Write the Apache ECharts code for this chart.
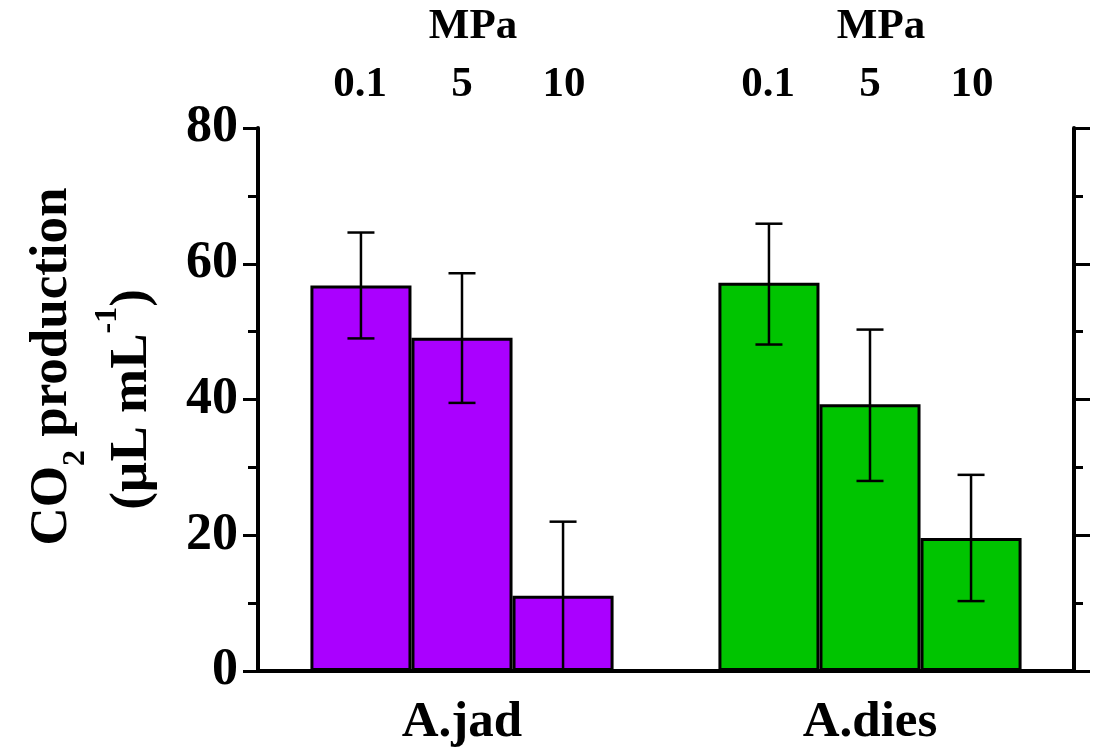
<!DOCTYPE html>
<html>
<head>
<meta charset="utf-8">
<script src="https://cdn.jsdelivr.net/npm/echarts@6/dist/echarts.min.js"></script>
<style>
html,body{margin:0;padding:0;background:#fff;}
#main{width:1094px;height:753px;}
</style>
</head>
<body>
<div id="main"></div>
<script>
// ---- data ----
const categories = ['A.jad', 'A.dies'];
const pressureLabels = ['0.1', '5', '10'];
const pressureUnit = 'MPa';
const mean01 = [56.8, 57.2];
const mean5 = [49.1, 39.3];
const mean10 = [11.1, 19.6];
const upper01 = [64.6, 65.9];
const lower01 = [49.0, 48.1];
const upper5 = [58.6, 50.3];
const lower5 = [39.5, 28.0];
const upper10 = [22.0, 28.9];
const lower10 = [0.0, 10.3];
const yTicks = [0, 20, 40, 60, 80];

// ---- style ----
const FONT = '"Liberation Serif", "Times New Roman", serif';
const colors = ['#AA00FF', '#00C400'];
const catGap = 0.257;

const chart = echarts.init(document.getElementById('main'));

const means = [mean01, mean5, mean10];
const uppers = [upper01, upper5, upper10];
const lowers = [lower01, lower5, lower10];

const barSeries = means.map((m, i) => ({
  type: 'bar',
  xAxisIndex: 0,
  yAxisIndex: 0,
  barGap: '0%',
  barCategoryGap: (catGap * 100) + '%',
  data: m.map((v, j) => ({ value: v, itemStyle: { color: colors[j] } })),
  itemStyle: { borderColor: '#000', borderWidth: 3 },
  z: 2
}));

const errSeries = means.map((m, i) => ({
  type: 'custom',
  xAxisIndex: 0,
  yAxisIndex: 0,
  z: 5,
  data: m.map((v, j) => [j, uppers[i][j], lowers[i][j]]),
  renderItem: function (params, api) {
    const band = api.size([1, 0])[0];
    const bw = band * (1 - catGap) / 3;
    const off = (i - 1) * bw;
    const hi = api.coord([api.value(0), api.value(1)]);
    const lo = api.coord([api.value(0), api.value(2)]);
    const x = hi[0] + off;
    const cap = 13.5;
    const st = { stroke: '#000', lineWidth: 2.5 };
    return {
      type: 'group',
      children: [
        { type: 'line', shape: { x1: x, y1: hi[1], x2: x, y2: lo[1] }, style: st },
        { type: 'line', shape: { x1: x - cap, y1: hi[1], x2: x + cap, y2: hi[1] }, style: st },
        { type: 'line', shape: { x1: x - cap, y1: lo[1], x2: x + cap, y2: lo[1] }, style: st }
      ]
    };
  }
}));

// top value axis positions: bar centres at 1,2,3 and 5,6,7 on a 0..8 scale
const topLabelMap = {};
[1, 2, 3].forEach((p, k) => { topLabelMap[p] = pressureLabels[k]; topLabelMap[p + 4] = pressureLabels[k]; });

const option = {
  backgroundColor: '#fff',
  animation: false,
  grid: { left: 258, right: 20, top: 128, bottom: 82 },
  xAxis: [
    {
      type: 'category',
      position: 'bottom',
      data: categories,
      axisLine: { lineStyle: { color: '#000', width: 4 } },
      axisTick: { alignWithLabel: true, length: 17, lineStyle: { color: '#000', width: 3 } },
      axisLabel: { color: '#000', fontFamily: FONT, fontWeight: 'bold', fontSize: 51, margin: 26 },
      splitLine: { show: false }
    },
    {
      type: 'category',
      position: 'top',
      data: categories,
      axisLine: { lineStyle: { color: '#000', width: 4 } },
      axisTick: { alignWithLabel: true, length: 15, lineStyle: { color: '#000', width: 3 } },
      axisLabel: {
        color: '#000', fontFamily: FONT, fontWeight: 'bold', fontSize: 43, margin: 80,
        padding: [0, 0, 0, 22],
        formatter: function () { return pressureUnit; }
      },
      splitLine: { show: false }
    },
    {
      type: 'value',
      position: 'top',
      min: 0, max: 8, interval: 1,
      axisLine: { show: false },
      axisTick: { show: false },
      splitLine: { show: false },
      axisLabel: {
        color: '#000', fontFamily: FONT, fontWeight: 'bold', fontSize: 43, margin: 22,
        showMinLabel: true, showMaxLabel: true,
        formatter: function (v) { return topLabelMap[v] || ''; }
      }
    }
  ],
  yAxis: [
    {
      type: 'value',
      position: 'left',
      min: yTicks[0], max: yTicks[yTicks.length - 1], interval: yTicks[1] - yTicks[0],
      axisLine: { show: true, lineStyle: { color: '#000', width: 4 } },
      axisTick: { show: true, length: 15, lineStyle: { color: '#000', width: 3 } },
      minorTick: { show: true, splitNumber: 2, length: 10, lineStyle: { color: '#000', width: 3 } },
      axisLabel: { color: '#000', fontFamily: FONT, fontWeight: 'bold', fontSize: 52, margin: 20 },
      splitLine: { show: false },
      name: '{pad|}{a|CO}{sub|2}{a| production}\n{a|(µL mL}{sup|-1}{a|)}',
      nameLocation: 'middle',
      nameRotate: 90,
      nameGap: 86,
      nameTextStyle: {
        color: '#000',
        fontFamily: FONT,
        fontWeight: 'bold',
        rich: {
          pad: { width: 66, lineHeight: 80 },
          a: { fontFamily: FONT, fontWeight: 'bold', fontSize: 53, lineHeight: 80, color: '#000' },
          sub: { fontFamily: FONT, fontWeight: 'bold', fontSize: 32, lineHeight: 46, verticalAlign: 'bottom', color: '#000' },
          sup: { fontFamily: FONT, fontWeight: 'bold', fontSize: 32, lineHeight: 44, verticalAlign: 'top', color: '#000' }
        }
      }
    },
    {
      type: 'value',
      position: 'right',
      min: yTicks[0], max: yTicks[yTicks.length - 1], interval: yTicks[1] - yTicks[0],
      axisLine: { show: true, lineStyle: { color: '#000', width: 4 } },
      axisTick: { show: true, length: 16, lineStyle: { color: '#000', width: 3 } },
      minorTick: { show: true, splitNumber: 2, length: 9, lineStyle: { color: '#000', width: 3 } },
      axisLabel: { show: false },
      splitLine: { show: false }
    }
  ],
  series: barSeries.concat(errSeries)
};

chart.setOption(option);
</script>
</body>
</html>
